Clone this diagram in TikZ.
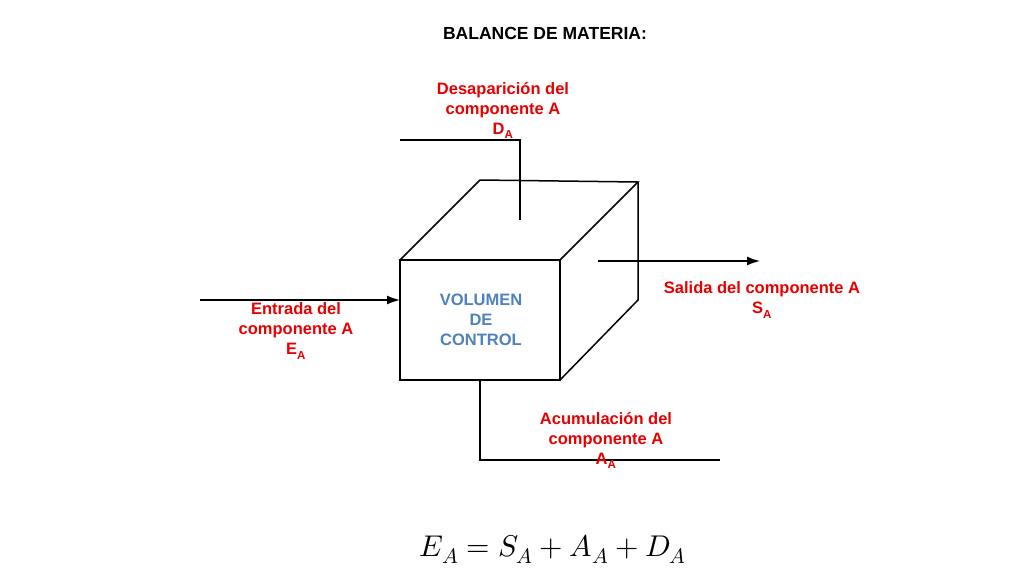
\documentclass[tikz,border=0pt]{standalone}
\usetikzlibrary{arrows.meta}
\usepackage{fontspec}
\setmainfont{Liberation Sans}
\usepackage{unicode-math}
\setmathfont{Latin Modern Math}
\definecolor{lblred}{RGB}{232,0,0}
\definecolor{volblue}{RGB}{79,129,189}
\begin{document}
\begin{tikzpicture}[x=1pt,y=-1pt,
  lbl/.style={text=lblred,font=\bfseries\fontsize{16.5}{20}\selectfont,align=center,inner sep=0},
  edge/.style={line width=1.5pt},
  arr/.style={line width=1.5pt,-{Latex[length=13pt,width=9pt]}}]
\useasboundingbox (0,0) rectangle (1024,576);
\node[font=\bfseries\fontsize{17.5}{20}\selectfont,inner sep=0] (title) at (545,33) {BALANCE DE MATERIA:};
% cube
\coordinate (f1) at (400,260); \coordinate (f2) at (560,260);
\coordinate (f3) at (560,380); \coordinate (f4) at (400,380);
\coordinate (b1) at (480,180); \coordinate (b2) at (638,182);
\coordinate (b3) at (638,300);
\draw[edge] (f1) -- (f2) -- (f3) -- (f4) -- cycle;
\draw[edge] (f1) -- (b1) -- (b2) -- (f2);
\draw[edge] (b2) -- (b3) -- (f3);
\node[text=volblue,font=\bfseries\fontsize{16.5}{20}\selectfont,align=center,inner sep=0] (vol) at (481,320) {VOLUMEN\\DE\\CONTROL};
% top
\coordinate (t0) at (400,140); \coordinate (t1) at (520,140); \coordinate (t2) at (520,220);
\draw[edge] (t0) -- (t1) -- (t2);
\node[lbl] (dl) at (503,110) {Desaparición del\\componente A\\D\textsubscript{A}};
% in
\coordinate (i0) at (200,300); \coordinate (i1) at (400,300);
\draw[arr] (i0) -- (i1);
\node[lbl] (el) at (296,331) {Entrada del\\componente A\\E\textsubscript{A}};
% out
\coordinate (o0) at (598,261); \coordinate (o1) at (760,261);
\draw[arr] (o0) -- (o1);
\node[lbl] (sl) at (762,300) {Salida del componente A\\S\textsubscript{A}};
% bottom
\coordinate (u0) at (480,380); \coordinate (u1) at (480,460); \coordinate (u2) at (720,460);
\draw[edge] (u0) -- (u1) -- (u2);
\node[lbl] (al) at (606,440) {Acumulación del\\componente A\\A\textsubscript{A}};
\node[font=\fontsize{30}{36}\selectfont,inner sep=0] (eq) at (553,549) {$E_A = S_A + A_A + D_A$};
\end{tikzpicture}
\end{document}
